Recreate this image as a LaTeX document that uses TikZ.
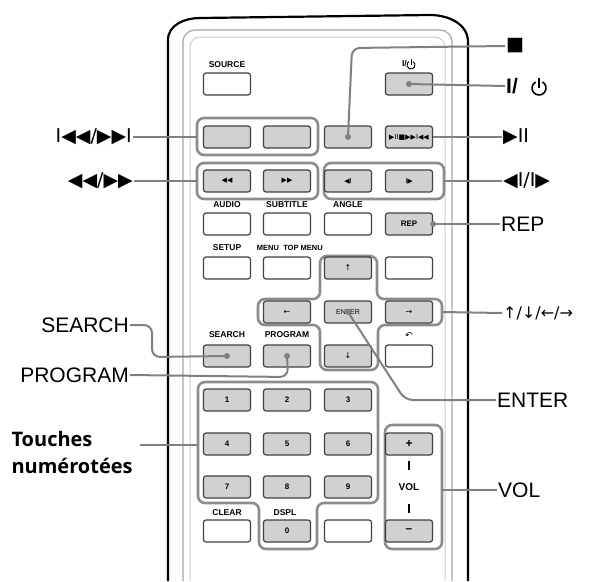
\documentclass[tikz,border=0pt]{standalone}
\usepackage{fontspec}
\setmainfont{Liberation Sans}
\newfontfamily\sym{DejaVu Sans}
\newfontfamily\touch{Open Sans}
\begin{document}
\begin{tikzpicture}[x=1pt,y=-1pt,
  btn/.style={draw=black!75,line width=1.2pt,rounded corners=2.5pt,minimum width=47pt,minimum height=22pt,inner sep=0pt,fill=white,font=\fontsize{8}{9}\selectfont\bfseries},
  gbtn/.style={btn,fill=black!18},
  grp/.style={draw=black!45,line width=2.6pt,rounded corners=7pt},
  con/.style={draw=black!50,line width=2pt,rounded corners=8pt},
  dot/.style={circle,fill=black!50,inner sep=0pt,minimum size=6pt},
  tiny/.style={font=\fontsize{8.5}{9}\selectfont\bfseries,inner sep=0pt},
  lab/.style={font=\fontsize{21}{22}\selectfont,inner sep=1pt},
  symlab/.style={font=\sym\fontsize{19}{20}\selectfont,inner sep=1pt}]
\useasboundingbox (0,0) rectangle (612,581);
% body
\draw[line width=2.2pt] (168,581) -- (168,40) to[out=90,in=180] (200,18) -- (430,15) to[out=0,in=90] (468,42) -- (468,581);
\draw[black!35,line width=1.2pt,rounded corners=12pt] (183,581) -- (183,30) -- (452,30) -- (452,581);
\draw[black!20,line width=1pt,rounded corners=10pt] (190,581) -- (190,37) -- (445,37) -- (445,581);
% groups
\draw[grp] (197,118) rectangle (318,155);
\draw[grp] (197,163) rectangle (318,199);
\draw[grp] (324,163) rectangle (444,199);
\draw[grp] (320,256) -- (377,256) -- (377,299) -- (442,299) -- (442,325) -- (378,325) -- (378,370) -- (320,370) -- (320,325) -- (258,325) -- (258,299) -- (320,299) -- cycle;
\draw[grp] (198,382) -- (378,382) -- (378,503) -- (317,503) -- (317,549) -- (259,549) -- (259,503) -- (198,503) -- cycle;
\draw[grp] (385,425) rectangle (442,549);
% buttons
\node[btn] (src) at (227,84) {};
\node[tiny] (srcl) at (227,65) {SOURCE};
\node[gbtn] (pwr) at (409,84) {};
\node[tiny,anchor=east] (pwrl) at (407,64) {I/};
\begin{scope}[shift={(411,65)},x=1pt,y=1pt]
\draw[line width=0.9pt] (60:4) arc[start angle=60,end angle=-240,radius=4];
\draw[line width=0.9pt] (0,6) -- (0,0);
\end{scope}
\node[gbtn] (prev) at (227,137) {};
\node[gbtn] (next) at (287,137) {};
\node[gbtn] (stop) at (348,137) {};
\node[gbtn,font=\sym\fontsize{7}{8}\selectfont] (play) at (409,137) {▶II■▶▶I◀◀};
\node[gbtn,font=\sym\fontsize{7}{8}\selectfont] (rew) at (227,181) {◀◀};
\node[gbtn,font=\sym\fontsize{7}{8}\selectfont] (ff) at (287,181) {▶▶};
\node[gbtn,font=\sym\fontsize{7}{8}\selectfont] (sb) at (348,181) {◀I};
\node[gbtn,font=\sym\fontsize{7}{8}\selectfont] (sf) at (409,181) {I▶};
\node[tiny] (al) at (227,205) {AUDIO};
\node[tiny] (sl) at (287,205) {SUBTITLE};
\node[tiny] (anl) at (348,205) {ANGLE};
\node[btn] (audio) at (227,224) {};
\node[btn] (sub) at (287,224) {};
\node[btn] (ang) at (348,224) {};
\node[gbtn] (rep) at (409,224) {REP};
\node[tiny] (setl) at (227,248) {SETUP};
\node[tiny,font=\fontsize{7.5}{8}\selectfont\bfseries] (menl) at (268,248) {MENU};
\node[tiny,font=\fontsize{7.5}{8}\selectfont\bfseries] (topl) at (303,248) {TOP MENU};
\node[btn] (setup) at (227,268) {};
\node[btn] (menu) at (287,268) {};
\node[gbtn,font=\sym\fontsize{8}{8}\selectfont] (up) at (348,268) {↑};
\node[btn] (b4) at (409,268) {};
\node[gbtn,font=\sym\fontsize{8}{8}\selectfont] (left) at (287,312) {←};
\node[gbtn,font=\fontsize{7}{8}\selectfont] (enter) at (348,312) {ENTER};
\node[gbtn,font=\sym\fontsize{8}{8}\selectfont] (right) at (409,312) {→};
\node[tiny] (scl) at (227,335) {SEARCH};
\node[tiny] (prl) at (287,335) {PROGRAM};
\node[tiny,font=\sym\fontsize{9}{9}\selectfont] (retl) at (409,335) {↶};
\node[gbtn] (search) at (227,356) {};
\node[gbtn] (prog) at (287,356) {};
\node[gbtn,font=\sym\fontsize{8}{8}\selectfont] (down) at (348,356) {↓};
\node[btn] (ret) at (409,356) {};
\node[gbtn] (n1) at (227,400) {1};
\node[gbtn] (n2) at (287,400) {2};
\node[gbtn] (n3) at (348,400) {3};
\node[gbtn] (n4) at (227,444) {4};
\node[gbtn] (n5) at (287,444) {5};
\node[gbtn] (n6) at (348,444) {6};
\node[gbtn] (n7) at (227,487) {7};
\node[gbtn] (n8) at (287,487) {8};
\node[gbtn] (n9) at (348,487) {9};
\node[gbtn,font=\fontsize{12}{12}\selectfont\bfseries] (vp) at (409,444) {+};
\node[gbtn,font=\fontsize{12}{12}\selectfont\bfseries] (vm) at (409,531) {--};
\node[tiny,font=\fontsize{10}{10}\selectfont\bfseries] (voll) at (409,487) {VOL};
\draw[line width=2pt] (409,461) -- (409,470) (409,504) -- (409,513);
\node[tiny] (cll) at (227,513) {CLEAR};
\node[tiny] (dsl) at (285,513) {DSPL};
\node[btn] (clear) at (227,531) {};
\node[gbtn] (n0) at (287,531) {0};
\node[btn] (dspl) at (348,531) {};
% right labels
\node[symlab,anchor=west] (Lstop) at (505,46) {■};
\node[lab,anchor=west,font=\bfseries\fontsize{21}{22}\selectfont] (Lpwr) at (505,86) {I/\hspace{14pt}};
\begin{scope}[shift={(539,88)},x=1pt,y=1pt]
\draw[line width=1.6pt] (60:7) arc[start angle=60,end angle=-240,radius=7];
\draw[line width=1.6pt] (0,10) -- (0,0);
\end{scope}
\node[symlab,anchor=west] (Lplay) at (502,137) {▶II};
\node[symlab,anchor=west] (Lslow) at (502,181) {◀I/I▶};
\node[lab,anchor=west] (Lrep) at (500,224) {REP};
\node[symlab,anchor=west,font=\sym\fontsize{16}{16}\selectfont] (Larr) at (502,313) {↑/↓/←/→};
\node[lab,anchor=west] (Lent) at (496,400) {ENTER};
\node[lab,anchor=west] (Lvol) at (497,490) {VOL};
% left labels
\node[symlab,anchor=east] (Lskip) at (133,137) {I◀◀/▶▶I};
\node[symlab,anchor=east] (Lscan) at (134,181) {◀◀/▶▶};
\node[lab,anchor=east] (Lsearch) at (130,325) {SEARCH};
\node[lab,anchor=east] (Lprog) at (130,375) {PROGRAM};
\node[font=\touch\bfseries\fontsize{20}{27}\selectfont,align=left,anchor=west] (Ltouch) at (8,452) {Touches\\numérotées};
% connectors
\node[dot] at (stop.center) {};
\draw[con] (Lstop.west) -- (352,48) -- (stop.center);
\node[dot] at (pwr.center) {};
\draw[con] (pwr.center) -- (Lpwr.west);
\draw[con] (play.east) -- (Lplay.west);
\draw[con] (444,181) -- (Lslow.west);
\node[dot] at (rep.east) {};
\draw[con] (rep.east) -- (Lrep.west);
\draw[con] (442,312) -- (Larr.west);
\node[dot] at (enter.center) {};
\draw[con] (enter.center) -- (405,400) -- (Lent.west);
\draw[con] (442,490) -- (Lvol.west);
\draw[con] (Lskip.east) -- (197,137);
\draw[con] (Lscan.east) -- (197,181);
\node[dot] at (search.center) {};
\draw[con] (Lsearch.east) -- (152,325) -- (152,357) -- (search.center);
\node[dot] at (prog.center) {};
\draw[con] (Lprog.east) -- (288,377) -- (prog.center);
\draw[con] (140,445) -- (198,445);
\end{tikzpicture}
\end{document}
